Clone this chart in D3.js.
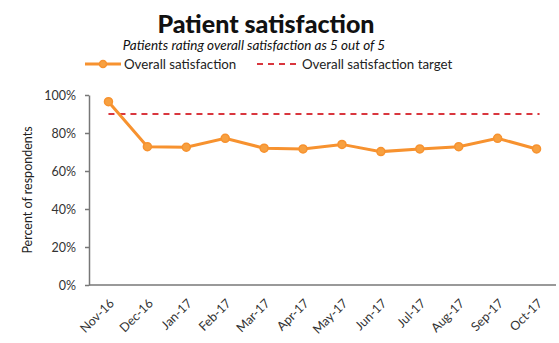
<!doctype html>
<html>
  <head>
    <script src="https://cdnjs.cloudflare.com/ajax/libs/d3/7.8.5/d3.min.js"></script>
    <style>
      body { margin: 0; background: #fff; }
      text { font-family: Lato, "Open Sans", sans-serif; fill: #222; }
      .title { font-size: 25px; font-weight: 900; fill: #111; }
      .subtitle { font-size: 13.5px; font-style: italic; fill: #111; }
      .legend { font-size: 13.3px; }
      .axis text { font-size: 12.5px; fill: #333; }
      .axis path, .axis line { stroke: #777; stroke-width: 1.5; }
      path.series { fill: none; stroke: #F7922F; stroke-width: 3; }
      circle.dot { fill: #F7A040; stroke: #F7922F; stroke-width: 1.5; }
      line.target { stroke: #D9363E; stroke-width: 2; stroke-dasharray: 6 5; }
    </style>
  </head>
  <body>
    <svg width="559" height="343"></svg>
    <script>
      var months = ["Nov-16", "Dec-16", "Jan-17", "Feb-17", "Mar-17", "Apr-17",
                    "May-17", "Jun-17", "Jul-17", "Aug-17", "Sep-17", "Oct-17"];
      var satisfaction = [96.5, 72.8, 72.5, 77.2, 72, 71.6, 74, 70.2, 71.6, 72.8, 77.2, 71.6];
      var target = 90;
      var yTicks = [0, 20, 40, 60, 80, 100];

      var svg = d3.select("svg");
      var plotL = 89, plotR = 556, plotT = 95, plotB = 285;

      var x = d3.scalePoint().domain(months).range([plotL, plotR]).padding(0.5);
      var y = d3.scaleLinear().domain([0, 100]).range([plotB, plotT]);

      svg.append("text").attr("class", "title")
        .attr("x", 266).attr("y", 33).attr("text-anchor", "middle")
        .text("Patient satisfaction");
      svg.append("text").attr("class", "subtitle")
        .attr("x", 254).attr("y", 50).attr("text-anchor", "middle")
        .text("Patients rating overall satisfaction as 5 out of 5");

      // legend
      var lg = svg.append("g").attr("class", "legend");
      lg.append("line").attr("x1", 85).attr("x2", 121).attr("y1", 64).attr("y2", 64)
        .attr("stroke", "#F7922F").attr("stroke-width", 3);
      lg.append("circle").attr("class", "dot").attr("cx", 103).attr("cy", 64).attr("r", 3.5);
      lg.append("text").attr("x", 124).attr("y", 68.5).text("Overall satisfaction");
      lg.append("line").attr("class", "target").attr("x1", 257).attr("x2", 300)
        .attr("y1", 64).attr("y2", 64).attr("stroke-dasharray", "7 6");
      lg.append("text").attr("x", 302).attr("y", 68.5).text("Overall satisfaction target");

      // axes
      svg.append("g").attr("class", "axis")
        .attr("transform", "translate(" + plotL + ",0)")
        .call(d3.axisLeft(y).tickValues(yTicks).tickSize(4).tickSizeOuter(0)
          .tickFormat(d => d + "%"))
        .call(g => g.selectAll("text").attr("x", -13));

      var xa = svg.append("g").attr("class", "axis")
        .attr("transform", "translate(0," + plotB + ")")
        .call(d3.axisBottom(x).tickSize(0).tickSizeOuter(0));
      xa.select("path.domain").attr("d", "M" + plotL + ",0H" + plotR);
      xa.selectAll("text")
        .attr("text-anchor", "end")
        .attr("dy", "0")
        .attr("transform", "translate(6,19) rotate(-45)")
        .attr("x", 0).attr("y", 0);

      svg.append("text").attr("class", "axis")
        .attr("transform", "translate(32,190) rotate(-90)")
        .attr("text-anchor", "middle")
        .style("font-size", "12.5px")
        .text("Percent of respondents");

      // target
      svg.append("line").attr("class", "target")
        .attr("x1", x(months[0])).attr("x2", x(months[months.length - 1]) + 3)
        .attr("y1", y(target)).attr("y2", y(target));

      var line = d3.line().x((d, i) => x(months[i])).y(d => y(d));
      svg.append("path").attr("class", "series").attr("d", line(satisfaction));
      svg.selectAll("circle.pt").data(satisfaction).enter()
        .append("circle").attr("class", "dot pt")
        .attr("cx", (d, i) => x(months[i])).attr("cy", d => y(d)).attr("r", 4);
    </script>
  </body>
</html>
